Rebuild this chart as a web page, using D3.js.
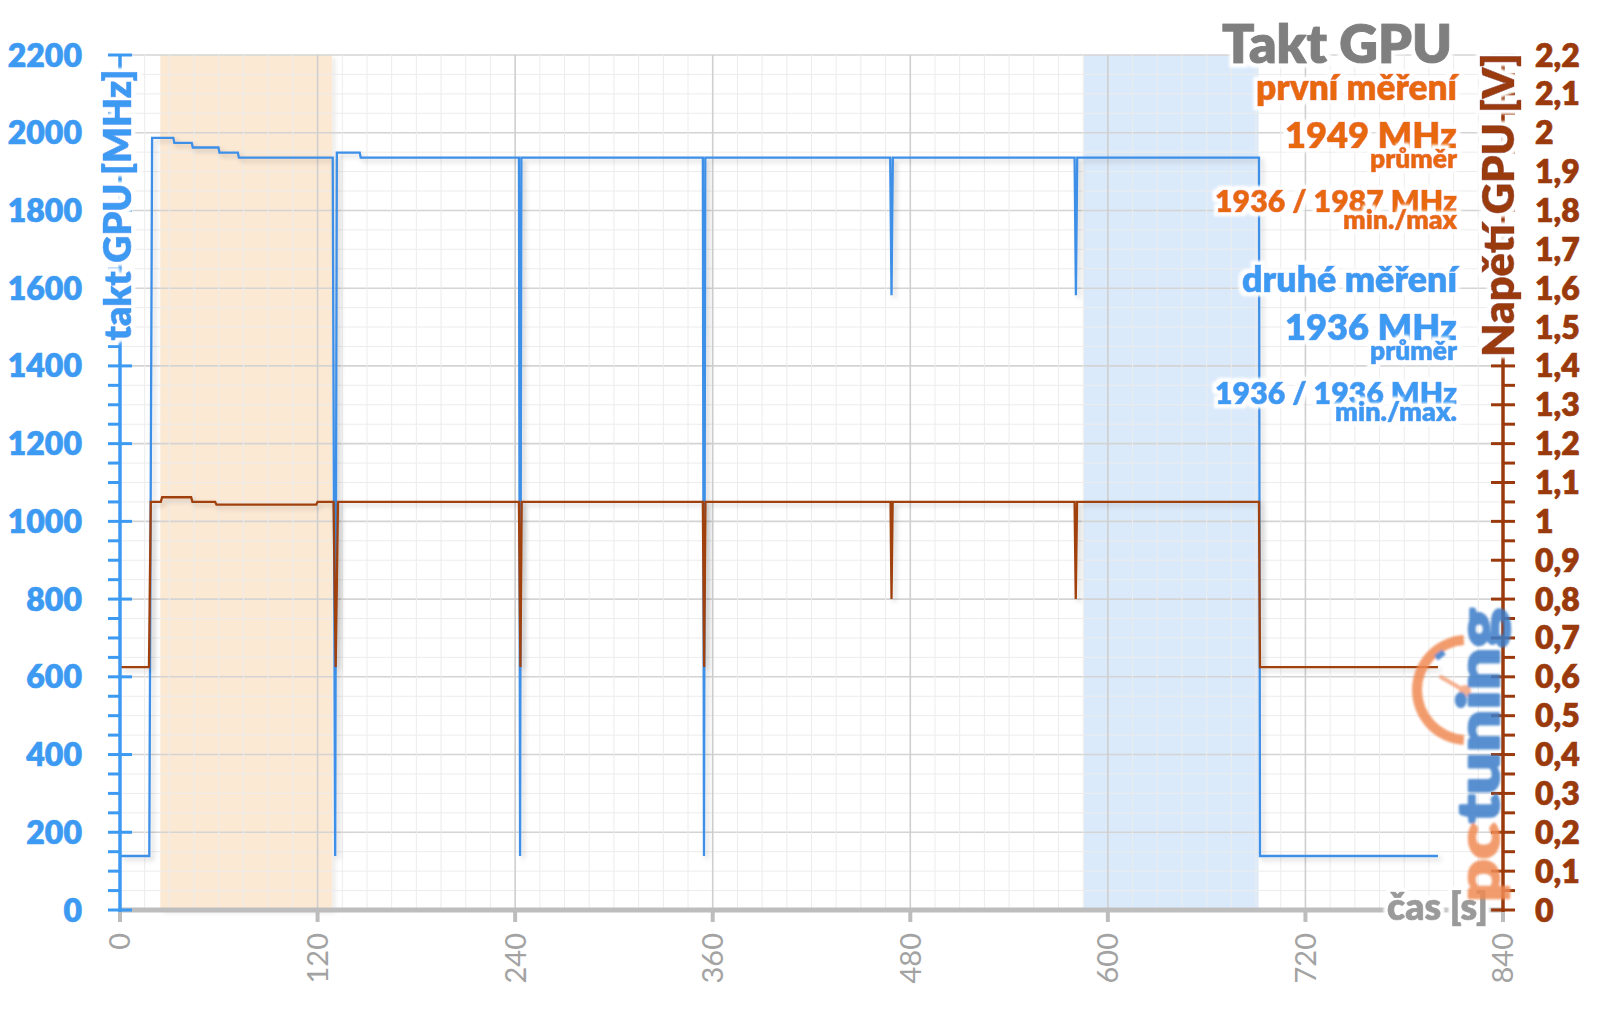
<!DOCTYPE html>
<html><head><meta charset="utf-8">
<script src="https://cdn.jsdelivr.net/npm/d3@7"></script>
<style>html,body{margin:0;padding:0;background:#fff;}svg{display:block;}</style>
</head><body>
<script>
// ---------- DATA ----------
const clockTime = [0,17.8,19.5,32.4,33.0,43.6,44.2,59.8,60.4,71.6,72.2,129.2,130.7,131.7,145.6,146.2,
  242.3,243.0,243.8,354.0,354.7,355.5,467.8,468.6,469.4,579.8,580.6,581.4,691.8,692.4,800.5];
const clockMHz  = [139,139,1987,1987,1974,1974,1962,1962,1949,1949,1936,1936,139,1949,1949,1936,
  1936,139,1936,1936,139,1936,1936,1582,1936,1936,1582,1936,1936,139,139];
const voltTime = [0,17.6,18.7,24.8,25.6,43.2,44.0,57.8,58.6,119.2,120.0,129.7,131.0,132.4,
  242.3,243.2,244.0,354.0,354.8,355.6,468.0,468.6,469.3,579.8,580.5,581.3,691.8,692.4,800.5];
const voltV = [0.625,0.625,1.05,1.05,1.062,1.062,1.05,1.05,1.043,1.043,1.05,1.05,0.625,1.05,
  1.05,0.625,1.05,1.05,0.625,1.05,1.05,0.8,1.05,1.05,0.8,1.05,1.05,0.625,0.625];
const firstRegion = [24.5, 128.8];
const secondRegion = [585.5, 691.5];
const timeTicks = [0,120,240,360,480,600,720,840];
const mhzTicks = [0,200,400,600,800,1000,1200,1400,1600,1800,2000,2200];
const voltTicks = [0,0.1,0.2,0.3,0.4,0.5,0.6,0.7,0.8,0.9,1,1.1,1.2,1.3,1.4,1.5,1.6,1.7,1.8,1.9,2,2.1,2.2];
const titleText = "Takt GPU";
const firstTexts = ["první měření","1949 MHz","průměr","1936 / 1987 MHz","min./max"];
const secondTexts = ["druhé měření","1936 MHz","průměr","1936 / 1936 MHz","min./max."];
const yLeftTitle = "takt GPU [MHz]";
const yRightTitle = "Napětí GPU [V]";
const xTitle = "čas [s]";

// ---------- STYLE ----------
const BLUE = "#3d9af2", BLUE_LINE = "#3d8fe8", ORANGE = "#e8690f", BROWN = "#9a3a0c",
      BROWN_LINE = "#a0410f", GRAY = "#7f7f7f", XGRAY = "#a3a3a3";
const FONT = "Lato, 'Open Sans', sans-serif";

const W = 1600, H = 1009;
const svg = d3.select("body").append("svg").attr("width", W).attr("height", H);
svg.append("rect").attr("width", W).attr("height", H).attr("fill", "#fff");

const defs = svg.append("defs");
const sh = defs.append("filter").attr("id","shadow").attr("x","-20%").attr("y","-20%").attr("width","140%").attr("height","140%");
sh.append("feDropShadow").attr("dx",3).attr("dy",3).attr("stdDeviation",2.5).attr("flood-color","#000").attr("flood-opacity",0.18);
const bl = defs.append("filter").attr("id","soft");
bl.append("feGaussianBlur").attr("stdDeviation",0.8);
// white halo behind text
const hf = defs.append("filter").attr("id","halo").attr("x","-10%").attr("y","-40%").attr("width","120%").attr("height","180%");
hf.append("feMorphology").attr("in","SourceAlpha").attr("operator","dilate").attr("radius",3.5).attr("result","d");
hf.append("feGaussianBlur").attr("in","d").attr("stdDeviation",1.2).attr("result","db");
hf.append("feFlood").attr("flood-color","#fff").attr("result","w");
hf.append("feComposite").attr("in","w").attr("in2","db").attr("operator","in").attr("result","h");
const fm = hf.append("feMerge");
fm.append("feMergeNode").attr("in","h");
fm.append("feMergeNode").attr("in","SourceGraphic");

const x = d3.scaleLinear().domain([0,840]).range([120,1503]);
const y = d3.scaleLinear().domain([0,2200]).range([910,55]);
const yV = d3.scaleLinear().domain([0,2.2]).range([910,55]);

// regions
svg.append("rect").attr("x", x(firstRegion[0])).attr("y", y(2200))
  .attr("width", x(firstRegion[1]) - x(firstRegion[0])).attr("height", y(0)-y(2200))
  .attr("fill", "#fbd4aa").attr("opacity", 0.5).attr("filter","url(#shadow)");
svg.append("rect").attr("x", x(secondRegion[0])).attr("y", y(2200))
  .attr("width", x(secondRegion[1]) - x(secondRegion[0])).attr("height", y(0)-y(2200))
  .attr("fill", "#b8d6f8").attr("opacity", 0.5);

// grid
const grid = svg.append("g");
d3.range(0, 2201, 50).forEach(v => {
  grid.append("line").attr("x1", x(0)).attr("x2", x(840)).attr("y1", y(v)).attr("y2", y(v))
    .attr("stroke", v % 200 === 0 ? "#d4d4d4" : "#ececec").attr("stroke-width", v % 200 === 0 ? 1.6 : 1);
});
d3.range(0, 841, 15).forEach(t => {
  grid.append("line").attr("x1", x(t)).attr("x2", x(t)).attr("y1", y(0)).attr("y2", y(2200))
    .attr("stroke", t % 120 === 0 ? "#cfcfcf" : "#ececec").attr("stroke-width", t % 120 === 0 ? 1.6 : 1);
});

// lines
const clockLine = d3.line().x((d,i) => x(clockTime[i])).y(d => y(d));
const voltLine = d3.line().x((d,i) => x(voltTime[i])).y(d => yV(d));
svg.append("path").attr("d", clockLine(clockMHz)).attr("fill","none").attr("stroke", BLUE_LINE)
  .attr("stroke-width", 2.3).attr("filter","url(#shadow)");
svg.append("path").attr("d", voltLine(voltV)).attr("fill","none").attr("stroke", BROWN_LINE)
  .attr("stroke-width", 2.3).attr("filter","url(#shadow)");

// x axis
svg.append("line").attr("x1", x(0)).attr("x2", x(840)).attr("y1", y(0)).attr("y2", y(0))
  .attr("stroke", "#bdbdbd").attr("stroke-width", 5);
timeTicks.forEach(t => {
  svg.append("line").attr("x1", x(t)).attr("x2", x(t)).attr("y1", y(0)).attr("y2", y(0)+12)
    .attr("stroke", "#bdbdbd").attr("stroke-width", 4);
  svg.append("text").attr("transform", `translate(${x(t)},933) rotate(-90)`)
    .attr("text-anchor","end").attr("dy","0.36em").attr("font-family", FONT)
    .attr("font-size", 29).attr("fill", XGRAY).text(t);
});

// left axis
svg.append("line").attr("x1", x(0)).attr("x2", x(0)).attr("y1", y(0)+2).attr("y2", y(2200))
  .attr("stroke", BLUE).attr("stroke-width", 3.5);
d3.range(0, 2201, 50).forEach(v => {
  const major = v % 200 === 0;
  svg.append("line").attr("x1", x(0)-12).attr("x2", major ? x(0)+12 : x(0))
    .attr("y1", y(v)).attr("y2", y(v)).attr("stroke", BLUE).attr("stroke-width", 3);
});
mhzTicks.forEach(v => {
  svg.append("text").attr("x", 82).attr("y", y(v)).attr("dy","0.36em").attr("text-anchor","end")
    .attr("font-family", FONT).attr("font-weight", 800).attr("font-size", 32).attr("fill", BLUE)
    .attr("stroke", BLUE).attr("stroke-width", 0.6).text(v);
});

// right axis
svg.append("line").attr("x1", x(840)).attr("x2", x(840)).attr("y1", y(0)+2).attr("y2", y(2200))
  .attr("stroke", BROWN).attr("stroke-width", 3.5);
d3.range(0, 45).forEach(k => {
  const v = k * 0.05, major = k % 2 === 0;
  svg.append("line").attr("x1", major ? x(840)-12 : x(840)).attr("x2", x(840)+12)
    .attr("y1", yV(v)).attr("y2", yV(v)).attr("stroke", BROWN).attr("stroke-width", 3);
});
const fmt = d3.formatLocale({decimal: ",", thousands: ".", grouping: [3], currency: ["", ""]}).format("~g");
voltTicks.forEach(v => {
  svg.append("text").attr("x", 1535).attr("y", yV(v)).attr("dy","0.36em").attr("text-anchor","start")
    .attr("font-family", FONT).attr("font-weight", 800).attr("font-size", 32).attr("fill", BROWN)
    .attr("stroke", BROWN).attr("stroke-width", 0.6).text(fmt(v));
});

// single text with white halo filter, fitted to a target width
function label(opts) {
  const t = svg.append("text").attr("transform", opts.transform || null)
    .attr("x", opts.x || 0).attr("y", opts.y || 0)
    .attr("text-anchor", opts.anchor || "end").attr("font-family", FONT)
    .attr("font-weight", opts.weight || 800).attr("font-size", opts.size)
    .attr("fill", opts.color).attr("stroke", opts.color).attr("stroke-width", opts.thick || 0.7)
    .attr("stroke-linejoin", "round").attr("filter", "url(#halo)").text(opts.text);
  if (opts.width) {
    const len = t.node().getComputedTextLength();
    t.attr("font-size", opts.size * opts.width / len);
  }
  return t;
}

// axis titles
label({transform: "translate(131,205) rotate(-90)", anchor: "middle", size: 36, color: BLUE, text: yLeftTitle, width: 271});
label({transform: "translate(1514,205) rotate(-90)", anchor: "middle", size: 40, color: BROWN, text: yRightTitle, width: 304});
label({x: 1488, y: 920, anchor: "end", size: 30, color: "#9a9a9a", text: xTitle, width: 101});

// annotations
const AX = 1457;
label({x: 1452, y: 63, size: 50, color: GRAY, text: titleText, width: 230, thick: 1});
const annY = [100, 148, 168, 212, 229];
const annSize = [30, 35, 22, 30, 22];
const annW = [201, 172, 87, 242, 114];
const annW2 = [215, 172, 87, 242, 122];
firstTexts.forEach((t, i) => label({x: AX, y: annY[i], size: annSize[i], color: ORANGE, text: t, width: annW[i]}));
secondTexts.forEach((t, i) => label({x: AX, y: annY[i] + 192, size: annSize[i], color: BLUE, text: t, width: annW2[i]}));

// logo
const logo = svg.append("g").attr("opacity", 0.85).attr("filter","url(#soft)");
logo.append("path").attr("transform","translate(1467,690)")
  .attr("d", d3.arc().innerRadius(45).outerRadius(55).startAngle(Math.PI*1.02).endAngle(Math.PI*1.98)())
  .attr("fill", "#f08b55");
logo.append("line").attr("x1", 1465).attr("y1", 691).attr("x2", 1441).attr("y2", 677)
  .attr("stroke", "#f4a27a").attr("stroke-width", 4).attr("stroke-linecap","round");
logo.append("circle").attr("cx", 1465).attr("cy", 691).attr("r", 6).attr("fill", "#f4a27a");
logo.append("line").attr("x1", 1436).attr("y1", 658).attr("x2", 1444).attr("y2", 652)
  .attr("stroke", "#3a7cc8").attr("stroke-width", 6);
const lt = logo.append("text").attr("transform","translate(1499,902) rotate(-90)")
  .attr("font-family", FONT).attr("font-weight", 900).attr("font-size", 58)
  .attr("stroke-width", 2.5).attr("stroke-linejoin","round")
  .attr("textLength", 294).attr("lengthAdjust", "spacingAndGlyphs");
lt.append("tspan").attr("fill", "#f08b55").attr("stroke", "#f08b55").text("pc");
lt.append("tspan").attr("fill", "#3a7cc8").attr("stroke", "#3a7cc8").text("tuning");
</script>
</body></html>
